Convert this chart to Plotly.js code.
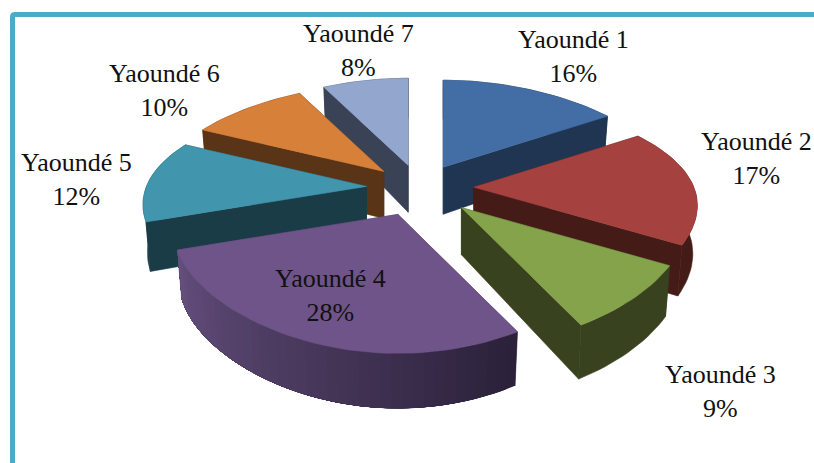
<!DOCTYPE html>
<html>
<head>
<meta charset="utf-8">
<script src="https://cdn.plot.ly/plotly-3.0.1.min.js"></script>
<style>html,body{margin:0;padding:0;background:#fff;overflow:hidden}</style>
</head>
<body>
<div id="chart" style="width:814px;height:463px"></div>
<script>
// Data
const labels = ["Yaoundé 1","Yaoundé 2","Yaoundé 3","Yaoundé 4","Yaoundé 5","Yaoundé 6","Yaoundé 7"];
const values = [16,17,9,28,12,10,8];

// Styles
const topColors  = ["#436ea5","#a5423f","#85a34b","#6f5489","#4195ad","#d7803a","#92a6ce"];
const wallColors = ["#1f3552","#451b18","#38421e","#4a3a60","#1a3c47","#5a3416","#3a4256"];
const gradientStart = [102,80,127];
const gradientEnd = [43,33,58];
const drawOrder = [6,0,5,1,4,2,3];

// Label placement
const labelX = [573,756,720,330,76,164,358];
const labelY = [56,158,391,295,179,90,50];

// Projection of the tilted pie
const CX = 420, CY = 188, RX = 220, RY = 107, EX = 54, EY = 26, DEPTH = 47;
const sx = v => 1+0.19*v-0.05*v*v, sy = v => 1/(1-0.23*v);
const total = values.reduce((a,b)=>a+b,0);

function uv(deg){const t=deg*Math.PI/180;return [Math.sin(t),-Math.cos(t)];}
function tipOf(mid){
  const [u,v]=uv(mid);
  return [CX+EX*u*(1+0.12*v), CY+EY*v*(1+0.1*v)];
}
function rim(tip,deg){
  const [u,v]=uv(deg);
  return [tip[0]+RX*u*sx(v), tip[1]+RY*v*sy(v), v];
}
function drop(tip,p){
  return [tip[0]+(p[0]-tip[0])*0.98, p[1]+DEPTH*(1+0.17*p[2])];
}
function poly(pts,color){
  const xs=pts.map(p=>p[0]).concat([pts[0][0]]);
  const ys=pts.map(p=>p[1]).concat([pts[0][1]]);
  return {type:"scatter",mode:"lines",x:xs,y:ys,fill:"toself",fillcolor:color,
    line:{color:color,width:0.6},hoverinfo:"skip",showlegend:false};
}
function mix(t){
  const c=gradientStart.map((a,i)=>Math.round(a+(gradientEnd[i]-a)*t));
  return "rgb("+c.join(",")+")";
}

let start=0;
const slices=values.map((val,i)=>{
  const a0=start, a1=start+val/total*360;
  start=a1;
  return {i,a0,a1,tip:tipOf((a0+a1)/2)};
});

const traces=[];
drawOrder.forEach(i=>{
  const s=slices[i], tip=s.tip;
  const tipBottom=[tip[0],tip[1]+DEPTH];
  const first=rim(tip,s.a0), last=rim(tip,s.a1);
  traces.push(poly([tip,first,drop(tip,first),tipBottom],wallColors[i]));
  traces.push(poly([tip,last,drop(tip,last),tipBottom],wallColors[i]));
  const steps=Math.ceil((s.a1-s.a0)/2);
  if(i===3){
    const bands=40;
    for(let k=0;k<bands;k++){
      const upper=[],lower=[];
      const b0=s.a0+(s.a1-s.a0)*k/bands;
      for(let j=0;j<=steps;j++){
        const p=rim(tip,b0+(s.a1-b0)*j/steps);
        upper.push(p);lower.push(drop(tip,p));
      }
      const col=mix(1-k/bands);
      traces.push({...poly(upper.concat(lower.reverse()),col),line:{color:col,width:0}});
    }
  } else {
    const upper=[],lower=[];
    for(let j=0;j<=steps;j++){
      const p=rim(tip,s.a0+(s.a1-s.a0)*j/steps);
      upper.push(p);lower.push(drop(tip,p));
    }
    traces.push(poly(upper.concat(lower.reverse()),wallColors[i]));
  }
  const top=[tip];
  for(let j=0;j<=steps;j++) top.push(rim(tip,s.a0+(s.a1-s.a0)*j/steps));
  traces.push(poly(top,topColors[i]));
});

const annotations=labels.map((name,i)=>({
  x:labelX[i],y:labelY[i],xref:"x",yref:"y",showarrow:false,align:"center",
  xanchor:"center",yanchor:"middle",
  text:name+"<br>"+Math.round(values[i]/total*100)+"%",
  font:{family:"Liberation Serif",size:26,color:"#111"}
}));

const layout={
  width:814,height:463,margin:{l:0,r:0,t:0,b:0},
  paper_bgcolor:"#fff",plot_bgcolor:"#fff",showlegend:false,
  xaxis:{range:[0,814],visible:false,fixedrange:true},
  yaxis:{range:[463,0],visible:false,fixedrange:true},
  annotations,
  shapes:[{type:"path",layer:"below",
    path:"M 12.5 480 L 12.5 17 Q 12.5 14.5 15 14.5 L 830 14.5",
    line:{color:"#4bacc6",width:5}}]
};
Plotly.newPlot("chart",traces,layout,{displayModeBar:false,staticPlot:true});
</script>
</body>
</html>
